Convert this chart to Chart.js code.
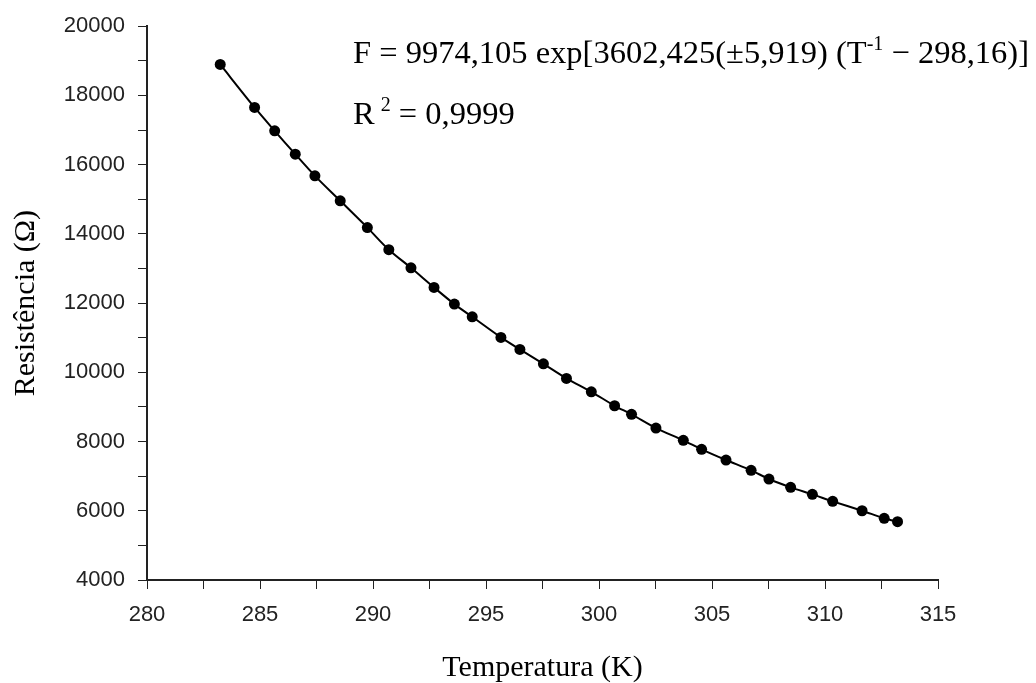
<!DOCTYPE html>
<html>
<head>
<meta charset="utf-8">
<script src="https://cdn.jsdelivr.net/npm/chart.js@4/dist/chart.umd.min.js"></script>
<style>
    body { margin: 0; background: #ffffff; }
    #wrap { position: relative; width: 1036px; height: 683px; }
    #eq {
        position: absolute;
        left: 353px;
        top: 22px;
        font-family: "Liberation Serif", "Times New Roman", serif;
        font-size: 32.5px;
        color: #000;
        line-height: 61px;
        white-space: nowrap;
    }
    #eq sup { font-size: 20px; vertical-align: 13px; line-height: 0; }
</style>
</head>
<body>
<div id="wrap">
    <canvas id="chart" width="1036" height="683"></canvas>
    <div id="eq">
        <div>F = 9974,105 exp[3602,425(±5,919) (T<sup>-1</sup> − 298,16)]</div>
        <div>R<sup style="margin-left:6px">2</sup> = 0,9999</div>
    </div>
</div>
<script>
// temperatura (K) e resistencia (ohm)
const temperaturas = [283.24, 284.76, 285.65, 286.56, 287.43, 288.55, 289.75, 290.70, 291.68, 292.70,
    293.60, 294.39, 295.66, 296.50, 297.54, 298.56, 299.66, 300.69, 301.44, 302.52,
    303.73, 304.54, 305.62, 306.73, 307.52, 308.48, 309.44, 310.34, 311.64, 312.62, 313.21];
const resistencias = [18894, 17652, 16976, 16303, 15677, 14955, 14181, 13542, 13020, 12453,
    11971, 11604, 11009, 10663, 10247, 9825, 9438, 9034, 8786, 8390,
    8035, 7775, 7466, 7168, 6917, 6677, 6475, 6273, 6001, 5782, 5684];
const xTicks = [280, 285, 290, 295, 300, 305, 310, 315];
const yTicks = [4000, 6000, 8000, 10000, 12000, 14000, 16000, 18000, 20000];

const tickFont = { family: 'Liberation Sans', size: 22 };
const titleFont = { family: 'Liberation Serif', size: 30, lineHeight: 1 };

function createChart () {
    const ctx = document.querySelector('#chart').getContext('2d');
    const points = temperaturas.map((t, i) => ({ x: t, y: resistencias[i] }));

    new Chart(ctx, {
        type: 'line',
        data: {
            datasets: [{
                data: points,
                borderColor: '#000',
                borderWidth: 2,
                backgroundColor: '#000',
                pointRadius: 5.5,
                pointBackgroundColor: '#000',
                pointBorderWidth: 0,
                tension: 0.3
            }]
        },
        options: {
            responsive: false,
            animation: false,
            layout: { padding: { left: 0, right: 98, top: 26, bottom: 0 } },
            plugins: { legend: { display: false }, tooltip: { enabled: false } },
            scales: {
                x: {
                    type: 'linear',
                    min: 280,
                    max: 315,
                    afterFit: scale => { scale.height = 103; },
                    border: { color: '#222', width: 2 },
                    grid: { drawOnChartArea: false, color: '#222', tickLength: 9 },
                    ticks: {
                        stepSize: 2.5,
                        font: tickFont,
                        color: '#222',
                        padding: 13,
                        maxRotation: 0,
                        autoSkip: false,
                        callback: v => xTicks.includes(v) ? String(v) : ''
                    },
                    title: {
                        display: true,
                        text: 'Temperatura (K)',
                        font: titleFont,
                        color: '#000',
                        padding: 0
                    }
                },
                y: {
                    min: 4000,
                    max: 20000,
                    afterFit: scale => { scale.width = 147; },
                    border: { color: '#222', width: 2 },
                    grid: { drawOnChartArea: false, color: '#222', tickLength: 9 },
                    ticks: {
                        stepSize: 1000,
                        font: tickFont,
                        color: '#222',
                        padding: 13,
                        autoSkip: false,
                        callback: v => yTicks.includes(v) ? String(v) : ''
                    },
                    title: {
                        display: true,
                        text: 'Resistência (Ω)',
                        font: titleFont,
                        color: '#000',
                        padding: { top: 11, bottom: 0 }
                    }
                }
            }
        }
    });
}
createChart();
</script>
</body>
</html>
